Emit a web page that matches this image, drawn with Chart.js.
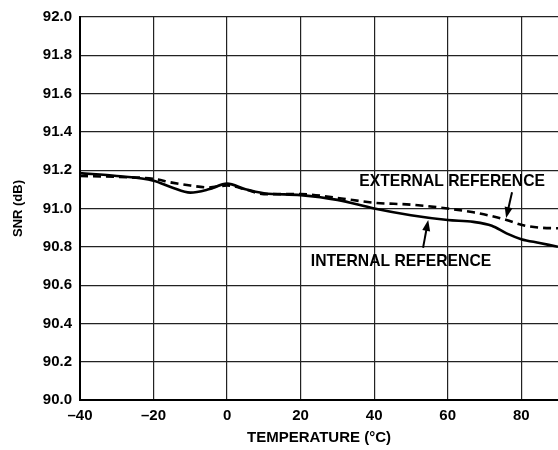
<!DOCTYPE html>
<html>
<head>
<meta charset="utf-8">
<script src="https://cdn.jsdelivr.net/npm/chart.js@4/dist/chart.umd.min.js"></script>
<style>
  html,body{margin:0;padding:0;background:#fff;}
  #wrap{width:558px;height:450px;}
</style>
</head>
<body>
<div id="wrap"><canvas id="chart" width="558" height="450"></canvas></div>
<script>
// data
const temps = [-40,-30,-20,-15,-10,-5,0,5,10,20,30,40,50,60,67,72,76,80,85,90];
const internalSnr = [91.185,91.17,91.145,91.11,91.083,91.10,91.13,91.10,91.08,91.07,91.045,91.00,90.965,90.94,90.93,90.91,90.87,90.84,90.82,90.80];
const externalSnr = [91.17,91.165,91.155,91.135,91.12,91.11,91.12,91.10,91.075,91.075,91.055,91.03,91.02,91.00,90.98,90.96,90.94,90.915,90.90,90.897];
const xTicks = [-40,-20,0,20,40,60,80];
const yMin = 90.0, yMax = 92.0, yStep = 0.2;

// callouts in data units: label, label pos, arrow tail, arrow head
const callouts = [
  {text:'EXTERNAL REFERENCE', at:[61.2,91.138], from:[77.5,91.085], to:[75.9,90.95]},
  {text:'INTERNAL REFERENCE', at:[47.3,90.72], from:[53.3,90.795], to:[54.7,90.94]}
];

const FONT = '"Liberation Sans", Arial, sans-serif';
const pts = arr => temps.map((t,i)=>({x:t,y:arr[i]}));

const calloutPlugin = {
  id:'callouts',
  afterDatasetsDraw(chart){
    const {ctx, scales:{x,y}} = chart;
    ctx.save();
    ctx.fillStyle = '#000';
    ctx.strokeStyle = '#000';
    ctx.font = 'bold 15.7px ' + FONT;
    ctx.textAlign = 'center';
    ctx.textBaseline = 'middle';
    callouts.forEach(c=>{
      ctx.fillText(c.text, x.getPixelForValue(c.at[0]), y.getPixelForValue(c.at[1]));
      const x1 = x.getPixelForValue(c.from[0]), y1 = y.getPixelForValue(c.from[1]);
      const x2 = x.getPixelForValue(c.to[0]), y2 = y.getPixelForValue(c.to[1]);
      const ang = Math.atan2(y2-y1, x2-x1);
      const hl = 11, hw = 4;
      ctx.lineWidth = 2;
      ctx.beginPath();
      ctx.moveTo(x1,y1);
      ctx.lineTo(x2 - Math.cos(ang)*hl*0.8, y2 - Math.sin(ang)*hl*0.8);
      ctx.stroke();
      ctx.beginPath();
      ctx.moveTo(x2,y2);
      ctx.lineTo(x2 - Math.cos(ang)*hl - Math.sin(ang)*hw, y2 - Math.sin(ang)*hl + Math.cos(ang)*hw);
      ctx.lineTo(x2 - Math.cos(ang)*hl + Math.sin(ang)*hw, y2 - Math.sin(ang)*hl - Math.cos(ang)*hw);
      ctx.closePath();
      ctx.fill();
    });
    ctx.restore();
  }
};

new Chart(document.getElementById('chart'),{
  type:'line',
  data:{
    datasets:[
      {label:'Internal reference', data:pts(internalSnr), borderColor:'#000', borderWidth:2.6, pointRadius:0, cubicInterpolationMode:'monotone', fill:false},
      {label:'External reference', data:pts(externalSnr), borderColor:'#000', borderWidth:2.6, borderDash:[8,5], pointRadius:0, cubicInterpolationMode:'monotone', fill:false}
    ]
  },
  options:{
    responsive:false,
    animation:false,
    layout:{padding:{top:17,right:0,left:0,bottom:0}},
    plugins:{legend:{display:false}, tooltip:{enabled:false}},
    scales:{
      x:{
        type:'linear', min:-40, max:90,
        afterBuildTicks: s => { s.ticks = xTicks.map(v=>({value:v})); },
        afterFit: s => { s.height = 50; },
        grid:{color:'#222', lineWidth:1.2, drawTicks:false},
        border:{color:'#000', width:2},
        ticks:{color:'#000', font:{family:FONT, size:15, weight:'bold'}, padding:7, maxRotation:0,
          callback: v => String(v).replace('-','\u2013')},
        title:{display:true, text:'TEMPERATURE (°C)', color:'#000', font:{family:FONT, size:15, weight:'bold'}, padding:{top:0,bottom:3}}
      },
      y:{
        min:yMin, max:yMax,
        afterFit: s => { s.width = 80; },
        grid:{color:'#222', lineWidth:1.2, drawTicks:false},
        border:{color:'#000', width:2},
        ticks:{color:'#000', stepSize:yStep, font:{family:FONT, size:15, weight:'bold'}, padding:8,
          callback: v => Number(v).toFixed(1)},
        title:{display:true, text:'SNR (dB)', color:'#000', font:{family:FONT, size:13, weight:'bold'}, padding:{top:11,bottom:0}}
      }
    }
  },
  plugins:[calloutPlugin]
});
</script>
</body>
</html>
